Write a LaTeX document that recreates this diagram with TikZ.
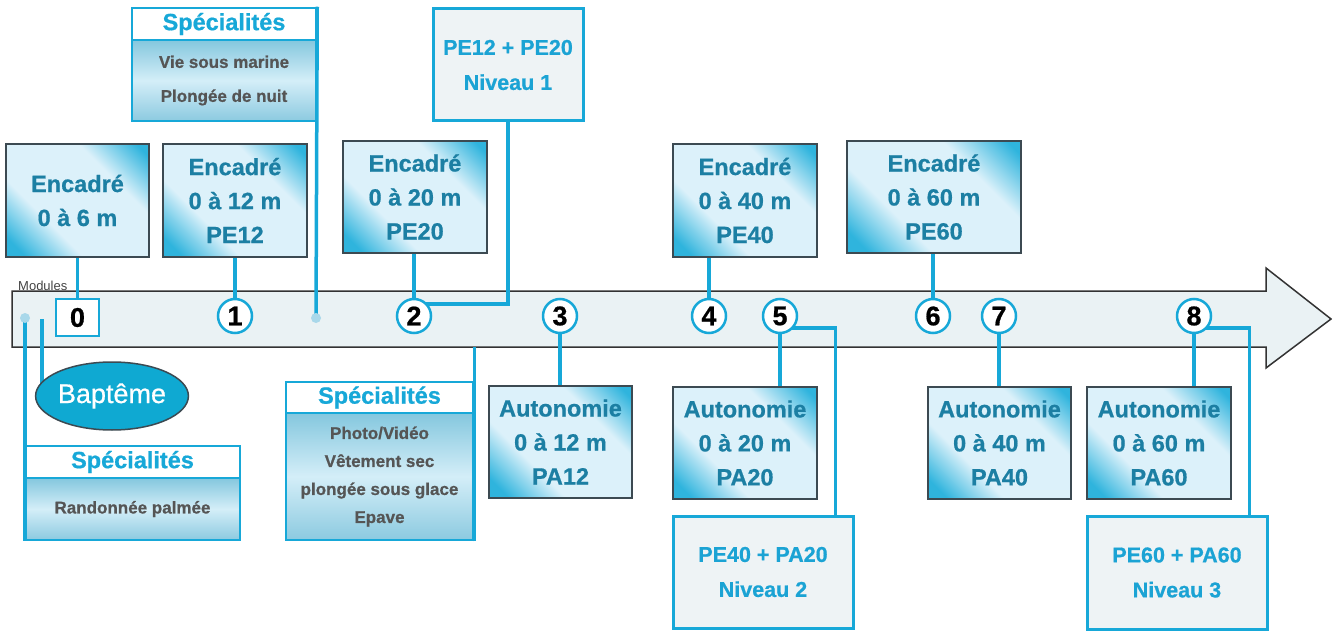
\documentclass[tikz,border=0pt]{standalone}
\usepackage{fontspec}
\setmainfont{Liberation Sans}
\newfontfamily\heavy{Liberation Sans}[FakeBold=0.7]
\usetikzlibrary{shapes.geometric}
\definecolor{lineC}{HTML}{17A8D8}
\definecolor{encB}{HTML}{3C4A52}
\definecolor{encT}{HTML}{1C7FA3}
\definecolor{encC}{HTML}{2FB4DD}
\definecolor{encL}{HTML}{DCF1FA}
\definecolor{nivF}{HTML}{EEF3F5}
\definecolor{nivT}{HTML}{1BA3D4}
\definecolor{arrF}{HTML}{EAF2F4}
\definecolor{arrB}{HTML}{333333}
\definecolor{specTop}{HTML}{84C7DE}
\definecolor{specMid}{HTML}{D4EEF8}
\definecolor{specBot}{HTML}{8CCAE0}
\definecolor{specT}{HTML}{555555}
\definecolor{baptC}{HTML}{0FA9D2}
\definecolor{dotC}{HTML}{A9D8EA}
\definecolor{modT}{HTML}{444444}
\pgfdeclarehorizontalshading{encshade}{100bp}{color(0bp)=(encC); color(20bp)=(encC); color(36bp)=(encL); color(66bp)=(encL); color(82bp)=(encC); color(100bp)=(encC)}
\tikzset{
  conn/.style={draw=lineC, line width=3.5pt},
  encbox/.style={rectangle, draw=encB, line width=2.2pt, shade, shading=encshade, shading angle=45,
    text=encT, font=\fontsize{23.5}{34}\selectfont\heavy\bfseries, align=center, inner sep=0pt},
  nivbox/.style={rectangle, draw=lineC, line width=3pt, fill=nivF, text=nivT,
    font=\fontsize{21.5}{35}\selectfont\heavy\bfseries, align=center, inner sep=0pt},
  spechead/.style={rectangle, draw=lineC, line width=2.5pt, fill=white, text=lineC,
    font=\fontsize{23.5}{28}\selectfont\heavy\bfseries, inner sep=0pt},
  specbody/.style={rectangle, draw=lineC, line width=2.5pt, top color=specTop, bottom color=specBot,
    middle color=specMid, text=specT, align=center, inner sep=0pt},
  modc/.style={circle, draw=lineC, line width=2.5pt, fill=white, minimum size=34pt, inner sep=0pt,
    font=\fontsize{27}{27}\selectfont\heavy\bfseries},
  dotn/.style={circle, fill=dotC, minimum size=10pt, inner sep=0pt},
}
\begin{document}
\begin{tikzpicture}[x=1pt,y=-1pt]
\useasboundingbox (0,0) rectangle (1333,631);
% timeline arrow
\draw[draw=arrB, line width=1.5pt, fill=arrF] (12,291) -- (1266,291) -- (1266,268) -- (1331,319)
  -- (1266,368) -- (1266,347) -- (12,347) -- cycle;
\coordinate (arrBot) at (0,347);
\node[font=\fontsize{13}{13}\selectfont, text=modT, anchor=base west, inner sep=0pt] (modlbl) at (18,290) {Modules};

% upper boxes
\node[encbox, minimum width=143pt, minimum height=113pt] (e6) at (77.5,200.5) {Encadré\\0 à 6 m};
\node[encbox, minimum width=144pt, minimum height=113pt] (e12) at (235,200.5) {Encadré\\0 à 12 m\\PE12};
\node[encbox, minimum width=144pt, minimum height=112pt] (e20) at (415,197) {Encadré\\0 à 20 m\\PE20};
\node[encbox, minimum width=144pt, minimum height=113pt] (e40) at (745,200.5) {Encadré\\0 à 40 m\\PE40};
\node[encbox, minimum width=174pt, minimum height=112pt] (e60) at (934,197) {Encadré\\0 à 60 m\\PE60};
\node[nivbox, minimum width=150pt, minimum height=112pt] (n1) at (508,65) {PE12 + PE20\\Niveau 1};

% lower boxes
\node[encbox, minimum width=143pt, minimum height=112pt] (a12) at (560.5,442) {Autonomie\\0 à 12 m\\PA12};
\node[encbox, minimum width=144pt, minimum height=112pt] (a20) at (745,443) {Autonomie\\0 à 20 m\\PA20};
\node[encbox, minimum width=143pt, minimum height=112pt] (a40) at (999.5,443) {Autonomie\\0 à 40 m\\PA40};
\node[encbox, minimum width=144pt, minimum height=112pt] (a60) at (1159,443) {Autonomie\\0 à 60 m\\PA60};
\node[nivbox, minimum width=180pt, minimum height=112pt] (n2) at (763,572) {PE40 + PA20\\Niveau 2};
\node[nivbox, minimum width=180pt, minimum height=113pt] (n3) at (1177,572.5) {PE60 + PA60\\Niveau 3};

% specialites boxes
\node[spechead, minimum width=184pt, minimum height=32pt] (sp1h) at (224,24) {Spécialités};
\node[specbody, minimum width=184pt, minimum height=81pt, font=\fontsize{17}{34}\selectfont\heavy\bfseries] (sp1b) at (224,80.5) {Vie sous marine\\Plongée de nuit};
\node[spechead, minimum width=187pt, minimum height=31pt] (sp2h) at (379.5,397.5) {Spécialités};
\node[specbody, minimum width=187pt, minimum height=127pt, font=\fontsize{17}{28}\selectfont\heavy\bfseries] (sp2b) at (379.5,476.5) {Photo/Vidéo\\Vêtement sec\\plongée sous glace\\Epave};
\node[spechead, minimum width=215pt, minimum height=32pt] (sp3h) at (132.5,462) {Spécialités};
\node[specbody, minimum width=215pt, minimum height=62pt, font=\fontsize{17}{28}\selectfont\heavy\bfseries] (sp3b) at (132.5,509) {Randonnée palmée};

% module markers (placed, drawn later)
\path (77.5,317.5) node[rectangle, minimum width=43pt, minimum height=37pt] (m0) {}
      (235,316) node[circle, minimum size=34pt] (m1) {}
      (414,316) node[circle, minimum size=34pt] (m2) {}
      (560,316) node[circle, minimum size=34pt] (m3) {}
      (709,316) node[circle, minimum size=34pt] (m4) {}
      (780,316) node[circle, minimum size=34pt] (m5) {}
      (933,316) node[circle, minimum size=34pt] (m6) {}
      (999,316) node[circle, minimum size=34pt] (m7) {}
      (1194,316) node[circle, minimum size=34pt] (m8) {};
\coordinate (d0) at (25,318);
\coordinate (d1) at (316,318);
\coordinate (bt) at (42,319);

% connectors
\draw[conn] (e6.south) -- (m0.north);
\draw[conn] (m1.north) -- (m1.north |- e12.south);
\draw[conn] (m2.north) -- (m2.north |- e20.south);
\draw[conn] (m4.north) -- (m4.north |- e40.south);
\draw[conn] (m6.north) -- (m6.north |- e60.south);
\draw[conn] (m3.south) -- (m3.south |- a12.north);
\draw[conn] (m5.south) -- (m5.south |- a20.north);
\draw[conn] (m7.south) -- (m7.south |- a40.north);
\draw[conn] (m8.south) -- (m8.south |- a60.north);
\draw[conn] (m2.45) -| (n1.south);
\draw[conn] (m5.-45) -| ([xshift=-19pt]n2.north east);
\draw[conn] (m8.-45) -| ([xshift=-19pt]n3.north east);
\draw[conn] (sp1h.north east) -- (d1);
\draw[conn] (d0) -- (d0 |- sp3b.south);
\draw[conn] (sp2b.south east) -- (sp2b.south east |- arrBot);
\draw[conn] (bt) -- (bt |- 0,396);

% bapteme
\node[ellipse, draw=encB, line width=1.5pt, fill=baptC, minimum width=143pt, minimum height=68pt,
  text=white, font=\fontsize{27}{27}\selectfont\heavy, inner sep=0pt] (bap) at (112,396) {Baptême};

% markers
\node[dotn] (dot0) at (d0) {};
\node[dotn] (dot1) at (d1) {};
\node[rectangle, draw=lineC, line width=2.5pt, fill=white, minimum width=43pt, minimum height=37pt,
  inner sep=0pt, font=\fontsize{27}{27}\selectfont\heavy\bfseries] (mm0) at (m0) {0};
\node[modc] (mm1) at (m1) {1};
\node[modc] (mm2) at (m2) {2};
\node[modc] (mm3) at (m3) {3};
\node[modc] (mm4) at (m4) {4};
\node[modc] (mm5) at (m5) {5};
\node[modc] (mm6) at (m6) {6};
\node[modc] (mm7) at (m7) {7};
\node[modc] (mm8) at (m8) {8};
\end{tikzpicture}
\end{document}
